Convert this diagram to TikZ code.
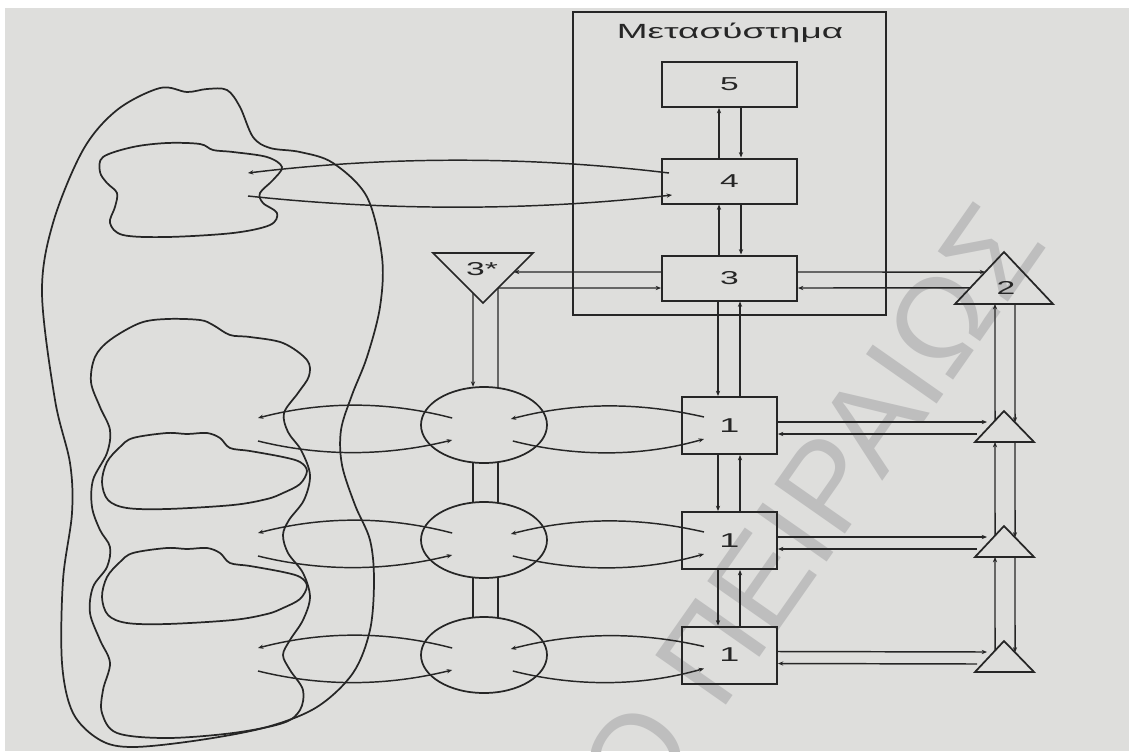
\documentclass[tikz,border=0pt]{standalone}
\usepackage{fontspec}
\setmainfont{Liberation Sans}
\usepackage{graphicx}
\usetikzlibrary{calc,arrows.meta,shapes.geometric}
\definecolor{bg}{HTML}{DEDEDC}
\definecolor{ink}{HTML}{262626}
\definecolor{wmc}{HTML}{BEBEBE}
\newcommand{\stretchx}[1]{\scalebox{1.8}[1]{#1}}
\begin{document}
\begin{tikzpicture}[x=0.75pt,y=-0.75pt,
  box/.style={draw=ink, line width=1.5pt, minimum width=101.25pt, minimum height=33.75pt, inner sep=0pt, text=ink, font=\fontsize{14}{16}\selectfont},
  opbox/.style={draw=ink, line width=1.5pt, minimum width=71.25pt, minimum height=42.75pt, inner sep=0pt, text=ink, font=\fontsize{15}{17}\selectfont},
  unit/.style={draw=ink, line width=1.3pt, ellipse, minimum width=94.5pt, minimum height=57pt, inner sep=0pt},
  conn/.style={draw=ink, line width=1.1pt},
  arr/.style={conn, -{Stealth[length=4pt,width=3.2pt]}},
  blob/.style={draw=ink, line width=1.3pt},
  tri/.style={draw=ink, line width=1.3pt, line join=miter},
  lbl/.style={inner sep=0pt, text=ink, font=\fontsize{14}{16}\selectfont},
  wm/.style={text=wmc, inner sep=0pt, font=\fontsize{94}{94}\selectfont}
]
% background
\fill[white] (0,0) rectangle (1129,751);
\fill[bg] (5,8) rectangle (1129,751);
\useasboundingbox (0,0) rectangle (1129,751);
% watermark
\begin{scope}
\clip (5,8) rectangle (1129,751);
\node[wm, rotate=55, anchor=base west] (wmb) at (720,714) {ΠΕΙΡΑΙΩΣ};
\node[wm, rotate=55, anchor=base east] (wma) at (700,743) {ΠΑΝΕΠΙΣΤΗΜΙΟ};
\end{scope}

% metasystem
\node[draw=ink, line width=1.5pt, minimum width=234.75pt, minimum height=227.25pt, inner sep=0pt] (meta) at (729.5,163.5) {};
\node[lbl, anchor=base, font=\fontsize{15.4}{18}\selectfont] (title) at (730,38) {\stretchx{Μετασύστημα}};
\node[box] (b5) at (729.5,84.5) {\stretchx{5}};
\node[box] (b4) at (729.5,181) {\stretchx{4}};
\node[box] (b3) at (729.5,278) {\stretchx{3}};

% operations
\node[opbox] (o1) at (729.5,425.5) {\stretchx{1}};
\node[opbox] (o2) at (729.5,540.5) {\stretchx{1}};
\node[opbox] (o3) at (729.5,655) {\stretchx{1}};
\node[unit] (c1) at (484,425) {};
\node[unit] (c2) at (484,540) {};
\node[unit] (c3) at (484,655) {};

% triangle 3*
\coordinate (s3l) at (433,253);
\coordinate (s3r) at (533,253);
\coordinate (s3a) at (483,303);
\draw[tri] (s3l) -- (s3r) -- (s3a) -- cycle;
\node[lbl] (s3) at (482,269) {\stretchx{3*}};
% triangle 2
\coordinate (t2a) at (1004,252);
\coordinate (t2l) at (955,304);
\coordinate (t2r) at (1053,304);
\draw[tri] (t2a) -- (t2r) -- (t2l) -- cycle;
\node[lbl] (t2) at (1006,288) {\stretchx{2}};
% small triangles
\foreach \k/\ya/\yb in {1/411/442, 2/526/557, 3/641/672}{
  \coordinate (u\k a) at (1004,\ya);
  \coordinate (u\k l) at (975,\yb);
  \coordinate (u\k r) at (1034,\yb);
  \draw[tri] (u\k a) -- (u\k r) -- (u\k l) -- cycle;
}

% environment blobs
\draw[blob] plot[smooth cycle, tension=0.55] coordinates {
 (160,88) (187,92) (207,89) (227,90) (240,107) (253,137) (270,148) (300,152)
 (333,163) (367,197) (382,257) (380,307) (367,357) (352,395) (341,430) (342,465)
 (355,505) (370,540) (374,580) (370,630) (353,673) (317,707) (267,727) (200,740)
 (133,747) (100,740) (73,713) (62,663) (63,580) (72,513) (70,463) (55,400)
 (42,293) (53,223) (83,150) (117,110)};
\draw[blob] plot[smooth cycle, tension=0.55] coordinates {
 (103,157) (133,147) (167,143) (200,144) (213,150) (233,152) (267,157) (282,167)
 (273,180) (260,193) (263,203) (277,213) (270,225) (233,233) (167,237) (123,235)
 (110,223) (115,207) (117,193) (107,183) (100,172)};
\draw[blob] plot[smooth cycle, tension=0.55] coordinates {
 (110,340) (140,323) (167,319) (200,320) (213,325) (230,335) (250,337) (283,343)
 (307,360) (309,376) (298,393) (284,413) (288,432) (301,450) (310,475) (304,500)
 (289,520) (283,535) (288,553) (303,573) (310,597) (303,620) (290,640) (283,655)
 (290,670) (303,690) (300,710) (283,723) (233,733) (167,738) (117,733) (102,713)
 (103,690) (110,663) (100,640) (90,613) (93,587) (107,567) (110,547) (100,530)
 (92,507) (93,480) (107,453) (110,430) (100,407) (91,382) (95,357)};
\foreach \dy in {0,115}{
\draw[blob] plot[smooth cycle, tension=0.55] coordinates {
 (107,462+\dy) (120,447+\dy) (133,438+\dy) (167,433+\dy) (187,434+\dy) (207,433+\dy)
 (220,438+\dy) (230,448+\dy) (250,451+\dy) (283,457+\dy) (300,462+\dy) (307,471+\dy)
 (300,484+\dy) (283,493+\dy) (267,499+\dy) (233,505+\dy) (167,509+\dy) (127,508+\dy)
 (108,500+\dy) (102,482+\dy)};
}

% environment end points
\coordinate (fu) at (248,173);
\coordinate (fl) at (248,196);
\coordinate (e1u) at (258,418);
\coordinate (e1l) at (258,441);
\coordinate (e2u) at (258,533);
\coordinate (e2l) at (258,556);
\coordinate (e3u) at (258,648);
\coordinate (e3l) at (258,671);

% metasystem verticals
\draw[arr] ($(b4.north)+(-10.5,0)$) -- ($(b5.south)+(-10.5,0)$);
\draw[arr] ($(b5.south)+(11.5,0)$) -- ($(b4.north)+(11.5,0)$);
\draw[arr] ($(b3.north)+(-10.5,0)$) -- ($(b4.south)+(-10.5,0)$);
\draw[arr] ($(b4.south)+(11.5,0)$) -- ($(b3.north)+(11.5,0)$);
\draw[arr] ($(b3.south)+(-11.5,0)$) -- ($(o1.north)+(-11.5,0)$);
\draw[arr] ($(o1.north)+(10.5,0)$) -- ($(b3.south)+(10.5,0)$);
\draw[arr] ($(o1.south)+(-11.5,0)$) -- ($(o2.north)+(-11.5,0)$);
\draw[arr] ($(o2.north)+(10.5,0)$) -- ($(o1.south)+(10.5,0)$);
\draw[arr] ($(o2.south)+(-11.5,0)$) -- ($(o3.north)+(-11.5,0)$);
\draw[arr] ($(o3.north)+(10.5,0)$) -- ($(o2.south)+(10.5,0)$);

% 3 <-> 3*
\draw[arr] ($(b3.west)+(0,-6)$) -- ($(s3r)!0.38!(s3a)$);
\draw[arr] ($(s3r)!0.7!(s3a)$) -- ($(b3.west)+(0,10)$);
% 3 <-> 2
\draw[arr] ($(b3.east)+(0,-6)$) -- ($(t2a)!0.385!(t2l)$);
\draw[arr] ($(t2a)!0.69!(t2l)$) -- ($(b3.east)+(0,10)$);
% 3* -> units
\draw[arr] ($(s3l)!0.8!(s3a)$) -- ($(c1.north)+(-11,0.6)$);
\draw[conn] ($(s3r)!0.7!(s3a)$) -- ($(c1.north)+(14,1)$);
\draw[conn] ($(c1.south)+(-11,-0.6)$) -- ($(c2.north)+(-11,0.6)$);
\draw[conn] ($(c1.south)+(14,-1)$) -- ($(c2.north)+(14,1)$);
\draw[conn] ($(c2.south)+(-11,-0.6)$) -- ($(c3.north)+(-11,0.6)$);
\draw[conn] ($(c2.south)+(14,-1)$) -- ($(c3.north)+(14,1)$);

% 4 <-> future environment
\draw[arr] ($(b4.west)+(8,-8)$) .. controls +(-140,-17) and +(140,-17) .. (fu);
\draw[arr] (fl) .. controls +(140,15) and +(-140,16) .. ($(b4.west)+(11,14)$);

% rows
\foreach \k in {1,2,3}{
  \draw[arr] ($(o\k.west)+(23,-8.5)$) .. controls +(-65,-15) and +(65,-17) .. ($(c\k.east)+(-37,-6)$);
  \draw[arr] ($(c\k.east)+(-35,16)$) .. controls +(63,16) and +(-63,18) .. ($(o\k.west)+(23,13.5)$);
  \draw[arr] ($(c\k.west)+(32,-7)$) .. controls +(-65,-17) and +(65,-17) .. (e\k u);
  \draw[arr] (e\k l) .. controls +(65,16) and +(-65,16) .. ($(c\k.west)+(32,15)$);
  \draw[arr] ($(o\k.east)+(0,-3.5)$) -- ($(u\k l)+(12,-20)$);
  \draw[arr] ($(u\k l)+(2,-8)$) -- ($(o\k.east)+(0,8.5)$);
}

% regulatory channel (2 <-> small triangles)
\draw[arr] ($(u1a)!0.31!(u1l)$) -- ($(t2l)!0.408!(t2r)$);
\draw[arr] ($(t2l)!0.612!(t2r)$) -- ($(u1a)!0.367!(u1r)$);
\draw[arr] ($(u2a)!0.31!(u2l)$) -- ($(u1l)!0.339!(u1r)$);
\draw[arr] ($(u1l)!0.678!(u1r)$) -- ($(u2a)!0.367!(u2r)$);
\draw[arr] ($(u3a)!0.31!(u3l)$) -- ($(u2l)!0.339!(u2r)$);
\draw[arr] ($(u2l)!0.678!(u2r)$) -- ($(u3a)!0.367!(u3r)$);
\end{tikzpicture}
\end{document}
